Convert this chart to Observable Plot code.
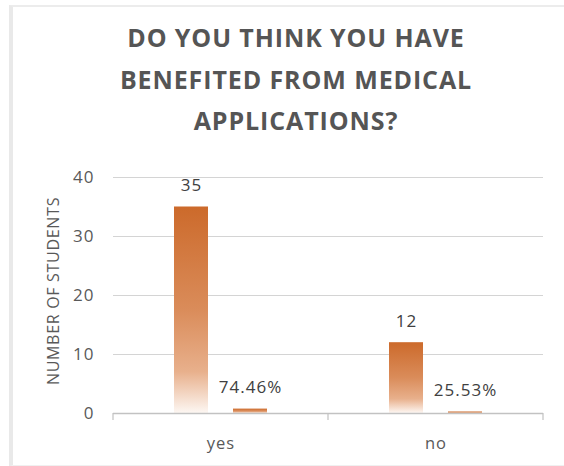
<!DOCTYPE html>
<html><head><meta charset="utf-8">
<script src="https://cdn.jsdelivr.net/npm/d3@7"></script>
<script src="https://cdn.jsdelivr.net/npm/@observablehq/plot@0.6"></script>
<style>
html,body{margin:0;padding:0;background:#fff;overflow:hidden;width:564px;height:466px;}
#frame{position:absolute;left:9px;top:5px;width:600px;height:458px;border-left:4px solid #e9e9e9;border-top:2px solid #ececec;border-bottom:1px solid #f0f0f0;}
#title{position:absolute;left:28px;width:536px;top:17px;text-align:center;font-family:"Open Sans";font-weight:bold;font-size:25px;letter-spacing:0.9px;line-height:41.5px;color:#555555;}
#ylabel{position:absolute;left:53px;top:291px;transform:translate(-50%,-50%) rotate(-90deg);white-space:nowrap;font-family:"Open Sans";font-size:16px;letter-spacing:0.7px;color:#595959;}
#chart{position:absolute;left:0;top:150px;}
</style></head><body>
<div id="frame"></div>
<div id="title">DO YOU THINK YOU HAVE<br>BENEFITED FROM MEDICAL<br>APPLICATIONS?</div>
<div id="ylabel">NUMBER OF STUDENTS</div>
<div id="chart"></div>
<script>
const categories = ["yes", "no"];
const students = [35, 12];
const shares = [0.7446, 0.2553];
const shareLabels = ["74.46%", "25.53%"];
const yTicks = [0, 10, 20, 30, 40];
const seriesKeys = ["count", "share"];

const rows = categories.flatMap((c, i) => [
  {answer: c, series: "count", value: students[i], label: String(students[i])},
  {answer: c, series: "share", value: shares[i], label: shareLabels[i]}
]);

const chart = Plot.plot({
  width: 564, height: 310,
  marginTop: 27, marginBottom: 47, marginLeft: 113, marginRight: 21,
  style: {fontFamily: '"Open Sans"', background: "transparent", overflow: "visible", letterSpacing: "1px"},
  fx: {domain: categories, padding: 0, label: null},
  x: {domain: seriesKeys, paddingInner: 0.424, paddingOuter: 1.03, axis: null},
  y: {domain: [0, 40]},
  marks: [
    Plot.gridY(yTicks.slice(1), {stroke: "#d4d4d4", strokeOpacity: 1, strokeWidth: 1.2}),
    Plot.barY(rows, {fx: "answer", x: "series", y: "value", fill: "url(#barGrad)"}),
    Plot.ruleY([0], {stroke: "#c2c2c2", strokeWidth: 1.5}),
    Plot.text(rows, {fx: "answer", x: "series", y: "value", text: "label", dy: -16, lineAnchor: "bottom", fill: "#404040", fontSize: 17}),
    Plot.axisY(yTicks, {tickSize: 0, tickPadding: 19, fontSize: 17, fill: "#595959", label: null}),
    Plot.axisFx({anchor: "bottom", tickSize: 0, tickPadding: 24, fontSize: 16.5, fill: "#595959", label: null})
  ]
});

const svg = d3.select(chart);
const grad = svg.insert("defs", ":first-child").append("linearGradient")
  .attr("id", "barGrad").attr("x1", 0).attr("y1", 0).attr("x2", 0).attr("y2", 1);
[[0, "#cc6a2b"], [0.5, "#da8c5a"], [0.8, "#e8b08c"], [1, "#fdf7f3"]].forEach(([o, c]) =>
  grad.append("stop").attr("offset", o).attr("stop-color", c));

const fx = chart.scale("fx"), ys = chart.scale("y");
const edges = [...categories.map(c => fx.apply(c)), fx.apply(categories[categories.length - 1]) + fx.bandwidth];
const y0 = ys.apply(0);
svg.append("g").selectAll("line").data(edges).join("line")
  .attr("x1", d => d).attr("x2", d => d).attr("y1", y0).attr("y2", y0 + 7)
  .attr("stroke", "#c2c2c2").attr("stroke-width", 1.2);

document.getElementById("chart").append(chart);
</script>
</body></html>
